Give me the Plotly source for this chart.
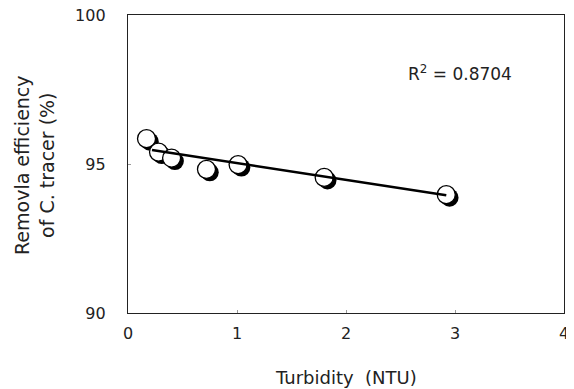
import plotly.graph_objects as go

turbidity = [0.17, 0.28, 0.40, 0.72, 1.01, 1.80, 2.92]
removal = [95.85, 95.40, 95.20, 94.82, 94.98, 94.55, 93.97]
trend_x = [0.22, 2.92]
trend_y = [95.47, 93.95]
r2_label = "R<sup>2</sup> = 0.8704"
x_title = "Turbidity  (NTU)"
y_title = "Removla efficiency<br>of C. tracer (%)"

FONT = "DejaVu Sans, Verdana, sans-serif"

fig = go.Figure()
# shadow of markers (drawn through slightly shifted overlay axes, below the circles)
fig.add_trace(go.Scatter(x=turbidity, y=removal, mode="markers", xaxis="x2", yaxis="y2",
                         marker=dict(size=18, color="black", line=dict(width=0)),
                         showlegend=False, hoverinfo="skip"))
fig.add_trace(go.Scatter(x=turbidity, y=removal, mode="markers", xaxis="x3", yaxis="y3",
                         marker=dict(size=18, color="white", line=dict(width=1.3, color="black")),
                         showlegend=False))
fig.add_trace(go.Scatter(x=trend_x, y=trend_y, mode="lines", xaxis="x3", yaxis="y3",
                         line=dict(color="black", width=2.5), showlegend=False))

axis_common = dict(showgrid=False, zeroline=False, showline=True, linecolor="#222",
                   linewidth=1.3, mirror=True, ticks="inside", ticklen=3, tickcolor="#999",
                   automargin=False, ticklabeloverflow="allow",
                   tickfont=dict(family=FONT, size=16, color="#222"))

fig.update_layout(
    width=566, height=381,
    margin=dict(l=120, r=10, t=7, b=76),
    paper_bgcolor="white", plot_bgcolor="white",
    font=dict(family=FONT, color="#222"),
    xaxis=dict(range=[0, 4], tickvals=[0, 1, 2, 3, 4], ticklabelstandoff=6, **axis_common),
    yaxis=dict(range=[90, 100], tickvals=[90, 95, 100], ticklabelstandoff=18, **axis_common),
    xaxis2=dict(range=[-0.03, 3.97], overlaying="x", visible=False),
    yaxis2=dict(range=[90.1, 100.1], overlaying="y", visible=False),
    xaxis3=dict(range=[0, 4], overlaying="x", visible=False),
    yaxis3=dict(range=[90, 100], overlaying="y", visible=False),
    annotations=[
        dict(x=3.05, y=98.05, xref="x", yref="y", text=r2_label, showarrow=False,
             font=dict(family=FONT, size=17, color="#222")),
        dict(x=0.5, y=-0.218, xref="paper", yref="paper", text=x_title, showarrow=False,
             xanchor="center", yanchor="middle", font=dict(family=FONT, size=18, color="#222")),
        dict(x=-0.213, y=0.497, xref="paper", yref="paper", text=y_title, showarrow=False,
             textangle=-90, xanchor="center", yanchor="middle",
             font=dict(family=FONT, size=19, color="#222")),
    ],
)

fig.write_html("out.html")
